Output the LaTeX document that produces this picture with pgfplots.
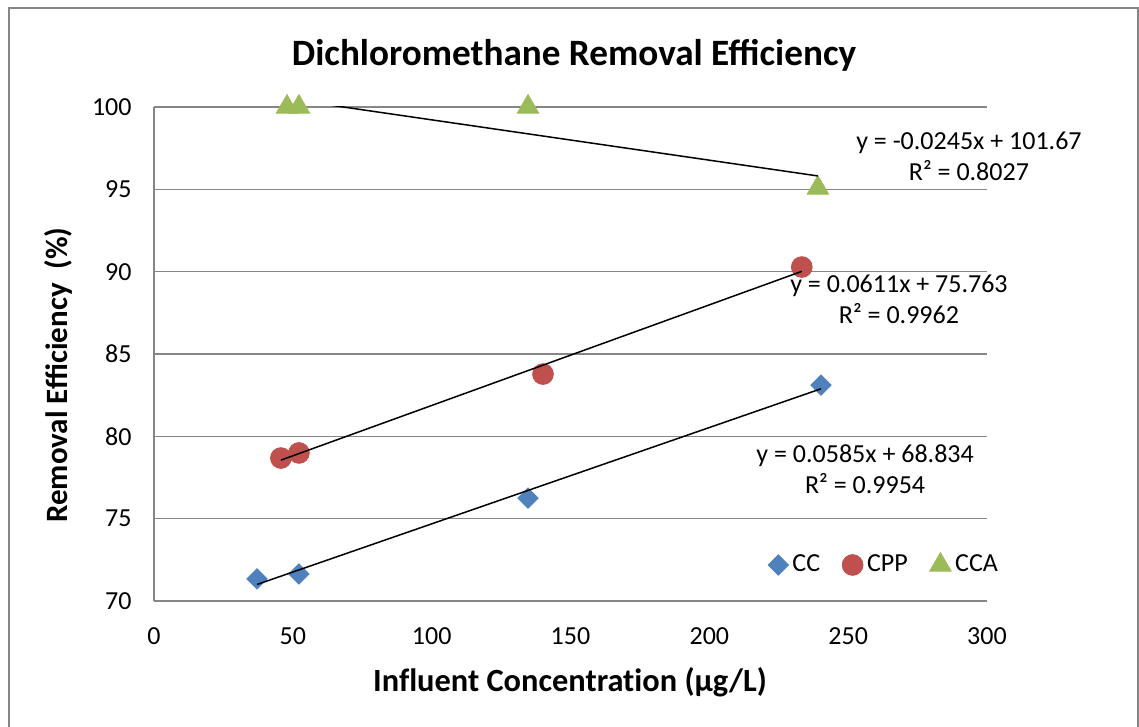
\documentclass[border=0pt]{standalone}
\usepackage{pgfplots}
\pgfplotsset{compat=1.18}
\usepackage{fontspec}
\setmainfont{Carlito}
\definecolor{gridgrey}{HTML}{868686}
\definecolor{ccblue}{HTML}{4F81BD}
\definecolor{cppred}{HTML}{C0504D}
\definecolor{ccagreen}{HTML}{9BBB59}
\begin{document}
\begin{tikzpicture}
\useasboundingbox (0pt,0pt) rectangle (569.5pt,363.5pt);
\draw[gridgrey, line width=0.75pt] (4.5pt,-2pt) rectangle (569pt,359.5pt);
\begin{axis}[
  at={(77pt,63pt)}, anchor=south west,
  scale only axis, width=416.5pt, height=247pt,
  xmin=0, xmax=300, ymin=70, ymax=100,
  xtick={0,50,100,150,200,250,300},
  ytick={70,75,80,85,90,95,100},
  axis x line*=bottom, axis y line*=left,
  ymajorgrids,
  grid style={gridgrey, line width=0.75pt},
  axis line style={gridgrey, line width=0.75pt},
  major tick length=0pt,
  tick label style={font=\fontsize{13}{15}\selectfont, text=black},
  /pgf/number format/assume math mode=true,
  yticklabel style={xshift=-7.7pt},
  xticklabel style={yshift=-9.6pt},
  clip mode=individual,
  legend style={at={(0.8776,0.0729)}, anchor=center, draw=none, fill=none,
    legend columns=3, font=\fontsize{13}{15}\selectfont,
    /tikz/every even column/.append style={column sep=9pt}},
  legend image code/.code={\draw[#1] plot coordinates {(0pt,0pt)};},
]
\addplot[only marks, mark=square*, mark size=3.6pt, mark options={rotate=45, fill=ccblue, draw=ccblue}]
  coordinates {(37.1,71.34) (52.2,71.64) (134.7,76.25) (240.2,83.11)};
\addlegendentry{CC}
\addplot[only marks, mark=*, mark size=5.2pt, mark options={fill=cppred, draw=cppred}]
  coordinates {(45.7,78.68) (52.2,78.99) (140.1,83.78) (233.3,90.28)};
\addlegendentry{CPP}
\addplot[only marks, mark=triangle*, mark size=6.2pt, mark options={fill=ccagreen, draw=ccagreen}]
  coordinates {(47.9,100) (52.2,100) (134.7,100) (239.1,95.08)};
\addlegendentry{CCA}
% linear trendlines
\addplot[black, line width=0.75pt, forget plot] coordinates {(37.1,71.004) (240.2,82.886)};
\addplot[black, line width=0.75pt, forget plot] coordinates {(45.7,78.555) (233.3,90.018)};
\addplot[black, line width=0.75pt, forget plot] coordinates {(47.9,100.496) (239.1,95.812)};
\node[align=center, font=\fontsize{13}{15.5}\selectfont] at (axis cs:293.5,96.99) {y = -0.0245x + 101.67\\R² = 0.8027};
\node[align=center, font=\fontsize{13}{15.5}\selectfont] at (axis cs:268.3,88.31) {y = 0.0611x + 75.763\\R² = 0.9962};
\node[align=center, font=\fontsize{13}{15.5}\selectfont] at (axis cs:256.1,77.99) {y = 0.0585x + 68.834\\R² = 0.9954};
\end{axis}
\node[font=\bfseries\fontsize{18.6}{21}\selectfont] at (287pt,336pt) {Dichloromethane Removal Efficiency};
\node[font=\bfseries\fontsize{15.5}{18}\selectfont, rotate=90] at (29pt,176pt) {Removal Efficiency\ \ (\%)};
\node[font=\bfseries\fontsize{16.2}{18}\selectfont\addfontfeatures{Ligatures=NoCommon}] at (285pt,22.5pt) {Influent Concentration (µg/L)};
\end{tikzpicture}
\end{document}
